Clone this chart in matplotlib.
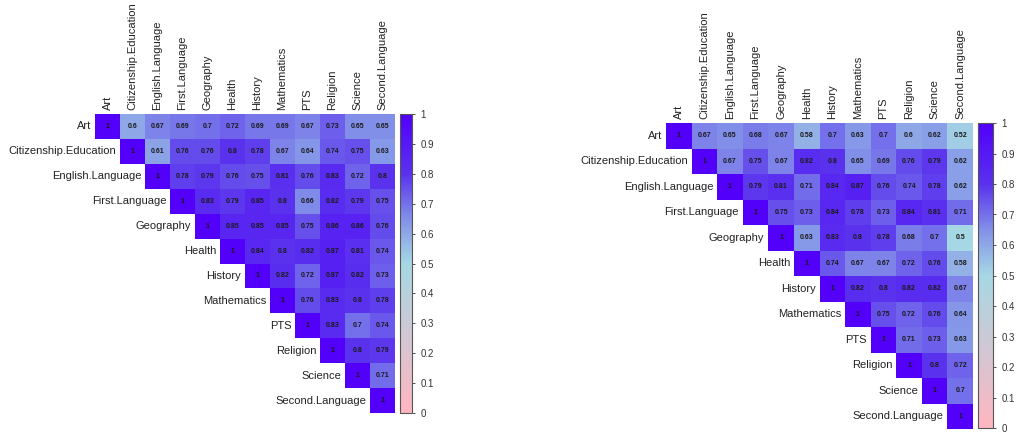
import numpy as np
import matplotlib
matplotlib.use("Agg")
import matplotlib.pyplot as plt
from matplotlib.colors import LinearSegmentedColormap, Normalize
from matplotlib.colorbar import ColorbarBase

plt.rcParams["font.family"] = ["Liberation Sans", "DejaVu Sans"]

subjects = [
    "Art", "Citizenship.Education", "English.Language", "First.Language",
    "Geography", "Health", "History", "Mathematics", "PTS", "Religion",
    "Science", "Second.Language",
]

# upper triangle of each correlation matrix, row by row (diagonal first)
corr_left = [
    [1, 0.6, 0.67, 0.69, 0.7, 0.72, 0.69, 0.69, 0.67, 0.73, 0.65, 0.65],
    [1, 0.61, 0.76, 0.76, 0.8, 0.78, 0.67, 0.64, 0.74, 0.75, 0.63],
    [1, 0.78, 0.79, 0.76, 0.75, 0.81, 0.76, 0.83, 0.72, 0.8],
    [1, 0.83, 0.79, 0.85, 0.8, 0.66, 0.82, 0.79, 0.75],
    [1, 0.85, 0.85, 0.85, 0.75, 0.86, 0.86, 0.76],
    [1, 0.84, 0.8, 0.82, 0.87, 0.81, 0.74],
    [1, 0.82, 0.72, 0.87, 0.82, 0.73],
    [1, 0.76, 0.83, 0.8, 0.78],
    [1, 0.83, 0.7, 0.74],
    [1, 0.8, 0.79],
    [1, 0.71],
    [1],
]

corr_right = [
    [1, 0.67, 0.65, 0.68, 0.67, 0.58, 0.7, 0.63, 0.7, 0.6, 0.62, 0.52],
    [1, 0.67, 0.75, 0.67, 0.82, 0.8, 0.65, 0.69, 0.76, 0.79, 0.62],
    [1, 0.79, 0.81, 0.71, 0.84, 0.87, 0.76, 0.74, 0.78, 0.62],
    [1, 0.75, 0.73, 0.84, 0.78, 0.73, 0.84, 0.81, 0.71],
    [1, 0.63, 0.83, 0.8, 0.78, 0.68, 0.7, 0.5],
    [1, 0.74, 0.67, 0.67, 0.72, 0.76, 0.58],
    [1, 0.82, 0.8, 0.82, 0.82, 0.67],
    [1, 0.75, 0.72, 0.76, 0.64],
    [1, 0.71, 0.73, 0.63],
    [1, 0.8, 0.72],
    [1, 0.7],
    [1],
]

cmap = LinearSegmentedColormap.from_list(
    "pink_blue",
    [(0.0, "#ffb6c1"), (0.5, "#a6d8e4"), (0.65, "#8290e8"),
     (0.8, "#5a32ee"), (1.0, "#5200fa")],
)
norm = Normalize(0, 1)

W, H = 1016, 436


def px_axes(fig, x0, x1, ytop, ybot):
    return fig.add_axes([x0 / W, (H - ybot) / H, (x1 - x0) / W, (ybot - ytop) / H])


def to_matrix(rows):
    n = len(rows)
    m = np.full((n, n), np.nan)
    for i, row in enumerate(rows):
        m[i, i:] = row
    return np.ma.masked_invalid(m)


def draw_corr(ax, rows):
    m = to_matrix(rows)
    n = m.shape[0]
    ax.pcolormesh(np.arange(n + 1), np.arange(n + 1), m, cmap=cmap, norm=norm,
                  edgecolors="none")
    ax.set_xlim(0, n)
    ax.set_ylim(n, 0)
    ax.axis("off")
    for i in range(n):
        for j in range(i, n):
            v = m[i, j]
            ax.text(j + 0.5, i + 0.5, f"{v:g}", ha="center", va="center",
                    fontsize=5, fontweight="bold", color="#1a1a1a")
        ax.text(i - 0.15, i + 0.5, subjects[i], ha="right", va="center",
                fontsize=8, color="#222222")
        ax.text(i + 0.5, -0.15, subjects[i], ha="center", va="bottom",
                rotation=90, fontsize=8, color="#222222")


def draw_bar(cax):
    cb = ColorbarBase(cax, cmap=cmap, norm=norm, orientation="vertical",
                      ticks=np.arange(0, 1.01, 0.1))
    cb.ax.set_yticklabels([f"{t:g}" for t in np.round(np.arange(0, 1.01, 0.1), 1)])
    cb.ax.tick_params(labelsize=7, length=2, width=0.6, colors="#333333", pad=4)
    cb.outline.set_linewidth(0.8)
    cb.outline.set_edgecolor("#555555")


fig = plt.figure(figsize=(W / 100, H / 100), dpi=100)

ax_l = px_axes(fig, 95, 395, 114, 413)
draw_corr(ax_l, corr_left)
draw_bar(px_axes(fig, 400, 412, 114, 413))

ax_r = px_axes(fig, 666, 973, 123, 429)
draw_corr(ax_r, corr_right)
draw_bar(px_axes(fig, 978, 993, 123, 428))

fig.savefig("out.png", dpi=100)
